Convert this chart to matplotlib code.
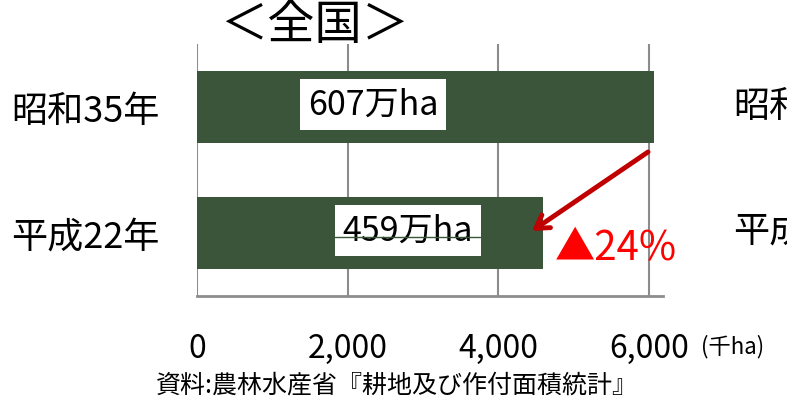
import matplotlib.pyplot as plt

plt.rcParams['font.family'] = ['Noto Sans CJK JP', 'DejaVu Sans']

# datos
years = ["昭和35年", "平成22年"]
area = [6070, 4590]          # 千ha
labels = ["607万ha", "459万ha"]
label_x = [2337, 2800]
ticks = [0, 2000, 4000, 6000]
tick_labels = ["0", "2,000", "4,000", "6,000"]
drop = "▲24%"

BAR = "#3a5539"
GRID = "#8c8c8c"

fig = plt.figure(figsize=(7.87, 4.06), dpi=100)
ax = fig.add_axes([197/787, 1 - 297/406, 466/787, 252/406])

ypos = list(range(len(years)))
ax.barh(ypos, area, height=0.57, color=BAR, zorder=2)

ax.set_xlim(0, 6186)
ax.set_ylim(1.5, -0.5)
ax.set_xticks(ticks)
ax.set_xticklabels(tick_labels, fontsize=23)
ax.set_yticks(ypos)
ax.set_yticklabels(years, fontsize=26)
ax.tick_params(axis='x', length=0, pad=26)
ax.tick_params(axis='y', length=0, pad=27)
ax.grid(axis='x', color=GRID, linewidth=1.5, zorder=0)
ax.set_axisbelow(True)
for s in ["top", "right", "left"]:
    ax.spines[s].set_visible(False)
ax.spines["bottom"].set_color(GRID)
ax.spines["bottom"].set_linewidth(2)

# etiquetas en las barras
for y, x, t in zip(ypos, label_x, labels):
    ax.text(x, y - 0.02, t, fontsize=24.5, ha="center", va="center", zorder=4,
            bbox=dict(facecolor="white", edgecolor="none", pad=6))
ax.hlines(1.03, 1819, 3783, color=BAR, linewidth=1, zorder=4.5)

# flecha de reducción
ax.annotate("", xy=(4447, 0.984), xytext=(5987, 0.357),
            arrowprops=dict(arrowstyle="->,head_length=0.9,head_width=0.55",
                            color="#c00000", lw=3.5, shrinkA=0, shrinkB=0),
            annotation_clip=False, zorder=5)
ax.text(4750, 1.11, drop, fontsize=29, color="#ff0000", ha="left", va="center",
        clip_on=False)

fig.text(315/787, 1 - 26/406, "＜全国＞", fontsize=34, ha="center", va="center")
fig.text(701/787, 1 - 347/406, "(千ha)", fontsize=16, ha="left", va="center")
fig.text(397/787, 1 - 386/406, "資料:農林水産省『耕地及び作付面積統計』",
         fontsize=18, ha="center", va="center")
# etiquetas del gráfico vecino (cortadas)
fig.text(733/787, 1 - 107/406, "昭和35年", fontsize=26, ha="left", va="center")
fig.text(733/787, 1 - 233/406, "平成22年", fontsize=26, ha="left", va="center")

fig.savefig("out.png", dpi=100)
